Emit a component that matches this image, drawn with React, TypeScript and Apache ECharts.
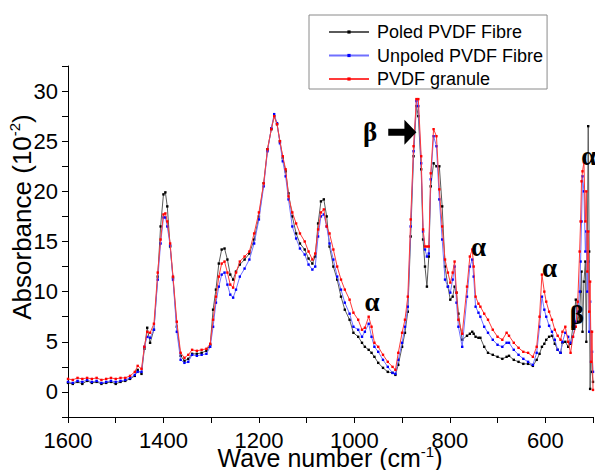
import React, { useEffect, useRef } from 'react';
import * as echarts from 'echarts';

const wavenumbers = [
  1600, 1590, 1580, 1570, 1560, 1550, 1540, 1530, 1520, 1510,
  1500, 1490, 1480, 1470, 1460, 1454, 1446, 1440, 1434, 1428,
  1420, 1412, 1406, 1400, 1396, 1392, 1386, 1380, 1372, 1364,
  1356, 1348, 1340, 1330, 1320, 1310, 1302, 1296, 1290, 1284,
  1278, 1272, 1266, 1260, 1254, 1248, 1240, 1230, 1220, 1210,
  1200, 1190, 1182, 1174, 1168, 1162, 1156, 1150, 1144, 1138,
  1130, 1122, 1114, 1104, 1096, 1088, 1082, 1076, 1070, 1064,
  1058, 1052, 1044, 1036, 1028, 1020, 1010, 1002, 992, 984,
  978, 970, 964, 958, 950, 940, 930, 920, 914, 908,
  900, 894, 888, 882, 876, 870, 866, 860, 856, 852,
  848, 844, 840, 834, 828, 822, 816, 810, 804, 799,
  794, 790, 786, 782, 774, 764, 758, 753, 750, 746,
  740, 736, 728, 720, 710, 700, 690, 681, 676, 666,
  656, 646, 636, 626, 618, 612, 607, 602, 598, 592,
  586, 580, 574, 568, 564, 558, 552, 547, 542, 536,
  532, 528, 526, 524, 522, 519, 516, 514, 512, 510,
  508, 506, 504, 502, 500,
];

const poledFibre = [
  0.9, 0.8, 1.0, 0.8, 1.1, 0.9, 1.0, 0.8, 0.9, 1.0,
  0.8, 1.0, 1.1, 1.3, 1.6, 2.2, 1.8, 4.3, 6.4, 4.9,
  6.2, 11.5, 16.5, 19.7, 19.9, 18.5, 14.5, 11.4, 6.5, 3.6,
  3.1, 3.3, 3.8, 3.8, 3.9, 4.1, 4.7, 8.2, 10.2, 12.8,
  14.2, 14.3, 13.2, 11.7, 11.2, 12.0, 12.7, 13.2, 13.8, 15.2,
  17.5, 20.8, 24.2, 26.2, 27.5, 26.7, 25.0, 23.3, 22.0, 19.8,
  17.5, 15.8, 14.8, 14.2, 13.3, 12.8, 13.5, 16.8, 19.0, 19.2,
  17.5, 14.5, 12.5, 11.2, 9.5, 8.2, 7.2, 5.9, 5.5, 4.9,
  4.5, 4.2, 3.9, 3.5, 2.9, 2.4, 2.0, 1.9, 1.7, 2.7,
  4.5, 5.9, 8.0, 15.5, 23.5, 28.5, 27.5, 22.2, 15.2, 12.5,
  10.5, 13.5, 20.5, 22.8, 22.5, 22.5, 18.5, 12.5, 10.5, 9.2,
  9.5, 10.5, 9.9, 7.8, 5.2, 5.6, 5.8, 6.0, 5.8, 5.5,
  5.4, 5.4, 4.5, 3.9, 3.7, 3.5, 3.3, 3.5, 3.6, 3.2,
  3.0, 2.8, 2.8, 2.6, 3.2, 3.8, 4.5, 4.8, 5.2, 5.5,
  5.6, 4.8, 4.2, 3.9, 4.9, 5.0, 4.5, 4.8, 6.5, 9.2,
  7.0, 8.0, 10.0, 12.0, 6.0, 11.0, 13.0, 5.0, 14.0, 26.5,
  14.0, 0.3, 6.0, 2.0, 1.0,
];

const unpoledFibre = [
  1.0, 0.9, 1.1, 1.0, 1.2, 1.0, 1.1, 0.9, 1.0, 1.1,
  1.0, 1.1, 1.2, 1.4, 1.7, 2.0, 2.0, 4.5, 5.5, 5.4,
  6.2, 11.2, 14.8, 17.4, 17.4, 16.5, 14.6, 11.2, 6.0, 3.2,
  2.9, 3.0, 3.7, 3.6, 3.7, 3.8, 4.5, 6.5, 8.9, 10.5,
  11.7, 11.9, 10.7, 9.7, 9.4, 10.2, 11.5, 12.3, 13.2, 14.8,
  17.2, 20.5, 24.0, 26.3, 27.7, 26.8, 24.8, 23.0, 21.5, 19.2,
  16.5, 15.3, 14.3, 13.7, 12.7, 12.2, 12.5, 15.5, 17.5, 17.7,
  16.5, 14.8, 13.2, 11.5, 10.2, 8.9, 7.8, 6.5, 6.2, 5.5,
  6.0, 6.8, 5.5, 4.5, 4.0, 3.2, 2.5, 1.9, 1.8, 3.2,
  4.9, 6.5, 8.5, 16.5, 24.0, 29.0, 28.5, 22.8, 16.0, 14.2,
  13.5, 13.8, 21.2, 25.5, 24.5, 19.2, 15.2, 11.2, 10.5, 9.9,
  11.2, 12.5, 8.9, 6.5, 4.5, 9.5, 12.5, 13.2, 11.5, 8.5,
  7.9, 7.5, 6.5, 5.9, 5.2, 4.7, 4.5, 4.9, 4.9, 4.2,
  3.7, 3.3, 3.0, 2.7, 3.9, 6.5, 9.5, 8.2, 7.5, 6.6,
  6.0, 5.2, 4.2, 3.9, 5.0, 5.9, 5.5, 4.9, 5.5, 7.0,
  8.0, 10.0, 13.0, 17.0, 21.5, 20.0, 14.0, 16.0, 10.0, 13.0,
  6.0, 9.0, 3.0, 4.0, 2.0,
];

const granule = [
  1.3, 1.2, 1.4, 1.3, 1.4, 1.3, 1.4, 1.2, 1.3, 1.4,
  1.3, 1.4, 1.4, 1.6, 2.0, 2.6, 2.3, 4.5, 6.0, 5.9,
  6.8, 11.9, 15.2, 17.7, 17.8, 17.0, 14.8, 11.5, 7.0, 3.9,
  3.4, 3.7, 4.2, 4.1, 4.2, 4.3, 4.8, 7.2, 9.5, 11.5,
  12.8, 13.0, 11.9, 10.7, 10.4, 11.9, 13.0, 13.5, 14.0, 15.8,
  17.9, 20.8, 24.2, 26.2, 27.5, 26.7, 25.0, 23.5, 22.2, 19.5,
  17.9, 16.8, 15.8, 15.0, 14.0, 13.2, 13.8, 16.2, 17.9, 18.2,
  16.5, 15.8, 14.2, 12.5, 11.2, 10.2, 9.2, 7.9, 7.2, 6.2,
  6.4, 7.5, 6.5, 4.9, 4.5, 3.7, 3.0, 2.5, 2.2, 3.9,
  5.9, 7.2, 9.5, 17.2, 24.5, 29.2, 29.2, 23.5, 16.2, 14.5,
  14.5, 14.5, 21.8, 26.2, 25.5, 20.2, 16.5, 13.2, 11.9, 10.9,
  11.9, 13.0, 9.9, 7.2, 5.8, 10.5, 13.5, 14.2, 12.5, 9.5,
  8.8, 8.5, 7.8, 7.2, 6.2, 5.5, 5.2, 5.9, 5.6, 4.9,
  4.4, 4.0, 3.9, 3.5, 4.5, 7.5, 11.7, 10.0, 9.0, 8.0,
  7.2, 6.2, 5.6, 5.2, 6.0, 6.5, 5.0, 3.9, 5.5, 6.5,
  9.0, 14.0, 17.0, 21.0, 22.0, 22.9, 17.0, 20.0, 12.0, 16.0,
  8.0, 11.0, 3.0, 6.0, 0.2,
];

const seriesNames = ['Poled PVDF Fibre', 'Unpoled PVDF Fibre', 'PVDF granule'];
const xTickLabels = [1600, 1400, 1200, 1000, 800, 600];
const yTickLabels = [0, 5, 10, 15, 20, 25, 30];

const annotations = [
  { label: 'β', wn: 967, value: 25.9 },
  { label: 'α', wn: 963, value: 9.0 },
  { label: 'α', wn: 740, value: 14.5 },
  { label: 'α', wn: 591, value: 12.4 },
  { label: 'α', wn: 509, value: 23.5 },
  { label: 'β', wn: 534, value: 7.7 },
];
const arrowTail = [929, 25.9];
const arrowHead = [870, 25.9];

const FONT = '"Liberation Sans", Arial, sans-serif';
const SERIF = '"Liberation Serif", "Times New Roman", serif';

export default function App() {
  const ref = useRef<HTMLDivElement>(null);

  useEffect(() => {
    document.body.style.margin = '0';
    const chart = echarts.init(ref.current as HTMLDivElement, null, { renderer: 'svg' });

    const mk = (name: string, values: number[], marker: string, line: string, z: number) => ({
      name,
      type: 'line',
      data: wavenumbers.map((w, i) => [w, values[i]]),
      symbol: 'rect',
      symbolSize: 2.4,
      showSymbol: true,
      showAllSymbol: true,
      itemStyle: { color: marker },
      lineStyle: { color: line, width: 1 },
      emphasis: { disabled: true },
      z,
    });

    chart.setOption({
      animation: false,
      grid: { left: 68, right: 2, top: 66, bottom: 53, containLabel: false, outerBoundsMode: 'none' },
      legend: {
        orient: 'vertical',
        left: 309,
        top: 15,
        itemWidth: 40,
        itemHeight: 4,
        itemGap: 5.5,
        padding: [8, 4, 1, 19],
        borderColor: '#8a8a8a',
        borderWidth: 1,
        textStyle: { fontFamily: FONT, fontSize: 18, color: '#000', lineHeight: 18, padding: [0, 0, 0, 3] },
        data: seriesNames,
      },
      xAxis: {
        type: 'value',
        inverse: true,
        min: 500,
        max: 1600,
        interval: 100,
        splitLine: { show: false },
        axisLine: { onZero: false, lineStyle: { color: '#000', width: 1 } },
        axisTick: { show: true, inside: false, length: 6, lineStyle: { color: '#000' } },
        axisLabel: {
          margin: 12,
          fontFamily: FONT,
          fontSize: 22,
          color: '#000',
          showMinLabel: true,
          showMaxLabel: true,
          formatter: (v: number) => (xTickLabels.includes(v) ? String(v) : ''),
        },
      },
      yAxis: {
        type: 'value',
        min: -2.5,
        max: 32.5,
        interval: 2.5,
        splitLine: { show: false },
        axisLine: { show: true, onZero: false, lineStyle: { color: '#000', width: 1 } },
        axisTick: { show: true, inside: false, length: 6, lineStyle: { color: '#000' } },
        axisLabel: {
          margin: 10,
          fontFamily: FONT,
          fontSize: 22,
          color: '#000',
          showMinLabel: true,
          showMaxLabel: true,
          formatter: (v: number) => (yTickLabels.includes(v) ? String(v) : ''),
        },
      },
      series: [
        mk(seriesNames[0], poledFibre, '#000000', '#5a5a5a', 2),
        mk(seriesNames[1], unpoledFibre, '#0000ff', '#7070ff', 3),
        mk(seriesNames[2], granule, '#ff0000', '#ff3a3a', 4),
      ],
    });

    const toPx = (p: number[]) => chart.convertToPixel({ seriesIndex: 0 }, p) as number[];
    const graphics: any[] = annotations.map((a) => {
      const [px, py] = toPx([a.wn, a.value]);
      return {
        type: 'text',
        x: px,
        y: py,
        z: 100,
        style: {
          text: a.label,
          fontFamily: SERIF,
          fontSize: 27,
          fontWeight: 'bold',
          fill: '#000',
          align: 'center',
          verticalAlign: 'middle',
          textAlign: 'center',
          textVerticalAlign: 'middle',
        },
      };
    });
    const [tx, ty] = toPx(arrowTail);
    const [hx] = toPx(arrowHead);
    graphics.push({
      type: 'polygon',
      z: 100,
      shape: {
        points: [
          [tx, ty - 3.5],
          [hx - 12, ty - 3.5],
          [hx - 12, ty - 12.5],
          [hx, ty],
          [hx - 12, ty + 12.5],
          [hx - 12, ty + 3.5],
          [tx, ty + 3.5],
        ],
      },
      style: { fill: '#000' },
    });
    graphics.push({
      type: 'text',
      x: 22,
      y: 217,
      rotation: Math.PI / 2,
      z: 100,
      style: {
        text: '{a|Absorbance (10}{s|-2}{a|)}',
        align: 'center',
        verticalAlign: 'middle',
        textAlign: 'center',
        textVerticalAlign: 'middle',
        rich: {
          a: { fontFamily: FONT, fontSize: 26, fill: '#000', color: '#000', lineHeight: 30 },
          s: { fontFamily: FONT, fontSize: 15, fill: '#000', color: '#000', verticalAlign: 'top', lineHeight: 30 },
        },
      },
    });
    graphics.push({
      type: 'text',
      x: 330,
      y: 458,
      z: 100,
      style: {
        text: '{a|Wave number (cm}{s|-1}{a|)}',
        align: 'center',
        verticalAlign: 'middle',
        textAlign: 'center',
        textVerticalAlign: 'middle',
        rich: {
          a: { fontFamily: FONT, fontSize: 25, fill: '#000', color: '#000', lineHeight: 28 },
          s: { fontFamily: FONT, fontSize: 15, fill: '#000', color: '#000', verticalAlign: 'top', lineHeight: 28 },
        },
      },
    });
    chart.setOption({ graphic: graphics });

    return () => chart.dispose();
  }, []);

  return <div ref={ref} style={{ width: 595, height: 470 }} />;
}
